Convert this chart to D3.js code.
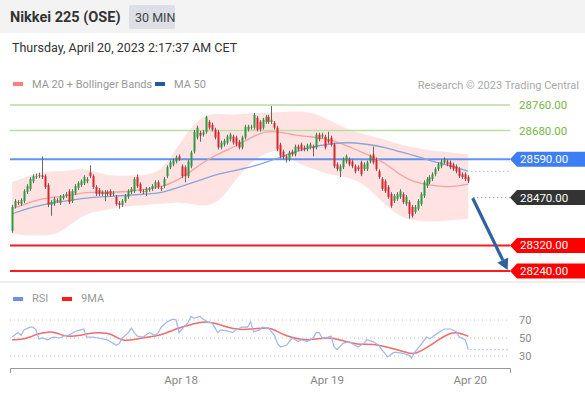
<!DOCTYPE html>
<html><head><meta charset="utf-8">
<script src="https://cdn.jsdelivr.net/npm/d3@7"></script>
<style>body{margin:0;background:#fff}svg{display:block;font-family:Roboto,"Liberation Sans",Arial,sans-serif}</style>
</head><body><svg id="c" width="585" height="395"></svg>
<script>
// ---------- DATA ----------
const open = [28366,28441,28456,28450,28459,28487,28497,28521,28534,28537,28540,28537,28509,28447,28450,28462,28453,28469,28475,28490,
28459,28484,28500,28509,28515,28521,28549,28537,28503,28494,28487,28481,28487,28490,28481,28472,28453,28447,28459,28472,
28487,28490,28534,28512,28490,28487,28494,28497,28503,28518,28500,28506,28537,28565,28574,28583,28599,28568,28565,28537,
28568,28614,28658,28673,28667,28676,28707,28698,28683,28676,28627,28636,28642,28652,28661,28658,28645,28627,28658,28683,
28689,28689,28720,28707,28689,28707,28723,28707,28704,28689,28636,28614,28599,28590,28614,28605,28630,28636,28627,28621,
28627,28630,28627,28667,28661,28661,28652,28658,28636,28574,28552,28565,28583,28590,28583,28568,28565,28580,28559,28559,
28583,28605,28590,28552,28528,28521,28503,28481,28459,28466,28472,28481,28450,28456,28441,28425,28435,28450,28475,28506,
28518,28528,28543,28559,28568,28580,28583,28580,28574,28568,28559,28543,28543,28534];
const high = [28447,28465,28462,28468,28496,28512,28534,28543,28545,28548,28599,28543,28515,28462,28472,28468,28478,28481,28487,28496,
28496,28512,28521,28527,28540,28534,28571,28543,28509,28500,28493,28493,28493,28496,28490,28478,28459,28465,28481,28496,
28503,28534,28543,28518,28496,28503,28503,28512,28524,28524,28506,28534,28571,28586,28592,28602,28605,28574,28571,28589,
28617,28682,28695,28679,28682,28726,28713,28704,28689,28682,28648,28654,28667,28673,28667,28664,28651,28664,28698,28698,
28698,28735,28726,28713,28720,28729,28729,28757,28710,28695,28642,28620,28605,28617,28620,28636,28636,28642,28633,28639,
28642,28636,28673,28673,28673,28667,28676,28664,28642,28580,28574,28596,28605,28596,28589,28574,28571,28586,28580,28586,
28605,28630,28596,28558,28534,28527,28509,28487,28481,28487,28496,28487,28478,28462,28447,28447,28465,28487,28524,28534,
28540,28549,28565,28580,28589,28596,28589,28586,28580,28574,28565,28549,28549,28540];
const low = [28360,28436,28447,28444,28453,28481,28491,28515,28528,28531,28528,28497,28440,28413,28444,28453,28447,28463,28469,28450,
28453,28478,28494,28503,28509,28515,28531,28497,28475,28475,28475,28459,28475,28472,28475,28444,28435,28441,28453,28466,
28481,28484,28500,28484,28481,28475,28488,28491,28497,28497,28491,28500,28531,28559,28568,28577,28584,28531,28518,28531,
28562,28608,28652,28645,28661,28670,28683,28677,28652,28621,28621,28630,28636,28646,28636,28630,28621,28621,28652,28677,
28683,28683,28677,28677,28683,28701,28701,28701,28683,28615,28593,28590,28580,28584,28599,28599,28615,28615,28615,28615,
28621,28599,28621,28646,28655,28621,28639,28630,28562,28553,28534,28559,28577,28568,28562,28546,28553,28537,28553,28553,
28577,28574,28553,28528,28491,28484,28466,28438,28453,28460,28466,28450,28444,28404,28407,28419,28429,28444,28469,28500,
28512,28522,28537,28553,28562,28574,28568,28559,28553,28546,28531,28528,28522,28515];
const close = [28441,28459,28453,28462,28490,28506,28528,28537,28537,28540,28534,28503,28447,28456,28466,28459,28472,28475,28481,28456,
28490,28506,28515,28521,28534,28528,28537,28503,28481,28481,28481,28487,28481,28478,28484,28450,28447,28459,28475,28490,
28497,28528,28506,28490,28487,28497,28497,28506,28518,28503,28497,28528,28565,28580,28586,28596,28590,28537,28537,28583,
28611,28676,28689,28664,28676,28723,28689,28683,28658,28627,28642,28648,28661,28667,28642,28636,28627,28658,28692,28692,
28692,28729,28683,28683,28714,28723,28707,28714,28689,28621,28599,28596,28593,28611,28605,28630,28621,28621,28621,28633,
28636,28624,28667,28652,28667,28627,28645,28636,28568,28559,28568,28590,28599,28574,28568,28552,28559,28543,28574,28580,
28599,28580,28559,28534,28497,28490,28472,28444,28475,28481,28490,28456,28472,28419,28413,28441,28459,28481,28518,28528,
28534,28543,28559,28574,28583,28590,28574,28565,28559,28552,28537,28534,28528,28521];

const indIdx  = [0,5,10,15,20,25,30,35,40,45,50,55,60,65,70,75,80,85,90,95,100,105,110,115,120,125,130,135,140,145,150,153];
const bbUpper = [28518,28537,28552,28552,28555,28562,28543,28537,28540,28540,28552,28621,28692,28732,28732,28729,28735,28735,28738,28741,28738,28720,28695,28676,28664,28652,28636,28627,28617,28614,28608,28605];
const bbLower = [28357,28351,28351,28354,28388,28422,28428,28438,28444,28447,28450,28456,28450,28441,28459,28528,28580,28611,28621,28580,28562,28546,28537,28528,28497,28447,28410,28397,28394,28397,28400,28404];
const ma20    = [28435,28453,28466,28472,28478,28487,28487,28487,28490,28497,28503,28521,28552,28586,28611,28630,28658,28679,28676,28664,28661,28655,28642,28621,28602,28580,28540,28518,28509,28503,28506,28512];
const ma50    = [28419,28435,28447,28456,28462,28469,28472,28475,28478,28481,28484,28500,28515,28531,28546,28555,28565,28580,28596,28614,28627,28636,28642,28642,28636,28627,28614,28602,28586,28574,28562,28552];

const rsiIdx = [0,2,3,4,6,7,8,9,10,12,13,14,16,18,19,21,23,24,25,27,29,32,34,35,36,37,39,40,41,42,44,46,48,49,50,52,54,55,56,57,59,60,61,63,64,66,67,69,70,72,74,75,77,79,80,81,83,84,86,88,89,90,92,94,96,97,99,101,102,103,104,106,107,108,109,111,113,114,116,118,119,121,123,124,126,128,129,131,133,134,135,137,139,140,141,143,145,147,149,150,152,153];
const rsiVal = [51,56,53,59,62,62,59,49,50,48,50,51,50,53,53,57,59,60,51,51,50,48,44,42,44,50,56,61,56,52,51,56,53,56,62,68,71,70,56,60,67,74,72,74,71,67,67,56,59,58,56,59,62,62,68,57,59,62,61,53,44,40,42,50,46,48,46,50,56,56,50,51,52,40,37,44,46,44,40,44,48,46,42,37,29,34,34,33,31,28,34,42,51,49,51,56,60,60,57,51,48,37];
const rsiMaIdx = [0,3,6,9,12,15,18,23,27,32,35,37,41,45,50,54,59,63,67,72,76,81,86,88,92,97,101,106,110,116,121,127,133,135,139,143,147,150,153];
const rsiMaVal = [48,48,51,55,57,56,51,53,56,56,51,47,48,51,53,59,64,68,68,62,59,60,62,59,52,48,48,51,48,42,44,39,33,32,39,48,56,56,52];

const dayIdx = [56.5,105.5,153.5];
const dayLabels = ["Apr 18","Apr 19","Apr 20"];
const levelValues = [28760,28680,28590,28470,28320,28240];
const levelKinds  = ["res","res","last","pivot","sup","sup"];
const rsiTicks = [70,50,30];
const arrowFrom = [154.5,28468];
const arrowTo = [166.2,28243];

// ---------- SETUP ----------
const svg = d3.select("#c");
const x = d3.scaleLinear().domain([-0.7,167]).range([10,510]);
const y = d3.scaleLinear().domain([28240,28760]).range([271,105]);
const yr = d3.scaleLinear().domain([30,70]).range([356,320]);
const n = close.length;

// header
svg.append("rect").attr("x",0).attr("y",0).attr("width",585).attr("height",33).attr("fill","#f3f3f3");
svg.append("text").attr("x",10).attr("y",22).attr("font-size",14.5).attr("font-weight","bold").attr("fill","#333").text("Nikkei 225 (OSE)");
svg.append("rect").attr("x",129).attr("y",5).attr("width",46).attr("height",24).attr("rx",2).attr("fill","#dcdfe5");
svg.append("text").attr("x",135).attr("y",21.5).attr("font-size",12.5).attr("fill","#444").text("30 MIN");
svg.append("text").attr("x",12).attr("y",52).attr("font-size",12.5).attr("fill","#333").text("Thursday, April 20, 2023 2:17:37 AM CET");

// legend
svg.append("rect").attr("x",13).attr("y",82).attr("width",10).attr("height",4).attr("fill","#ff7f7f");
svg.append("text").attr("x",32).attr("y",88).attr("font-size",11).attr("fill","#999").text("MA 20 + Bollinger Bands");
svg.append("rect").attr("x",155).attr("y",82).attr("width",10).attr("height",4).attr("fill","#2b5797");
svg.append("text").attr("x",174).attr("y",88).attr("font-size",11).attr("fill","#999").text("MA 50");
svg.append("text").attr("x",579).attr("y",89).attr("text-anchor","end").attr("font-size",11).attr("fill","#aaa").text("Research \u00A9 2023 Trading Central");

// Bollinger band fill
const bandPts = indIdx.map((d,i)=>({i:d,u:bbUpper[i],l:bbLower[i]}));
svg.append("path").datum(bandPts)
  .attr("d", d3.area().x(d=>x(d.i)).y0(d=>y(d.l)).y1(d=>y(d.u)).curve(d3.curveBasis))
  .attr("fill","#ffe3e3");

// level lines
const lineColor = {res:"#b9dea2", last:"#5f93f2", sup:"#ff1a1a"};
const lineW = {res:1.5, last:2, sup:2};
levelValues.forEach((v,i)=>{
  const k = levelKinds[i];
  if (k==="pivot") return;
  svg.append("line").attr("x1",10).attr("x2",510).attr("y1",y(v)).attr("y2",y(v))
    .attr("stroke",lineColor[k]).attr("stroke-width",lineW[k]);
});

// MA lines
const ma20Pts = indIdx.map((d,i)=>[x(d),y(ma20[i])]);
const ma50Pts = indIdx.map((d,i)=>[x(d),y(ma50[i])]);
svg.append("path").attr("d",d3.line().curve(d3.curveBasis)(ma20Pts)).attr("fill","none").attr("stroke","#f7a0a0").attr("stroke-width",1.3);
svg.append("path").attr("d",d3.line().curve(d3.curveBasis)(ma50Pts)).attr("fill","none").attr("stroke","#8aa4d6").attr("stroke-width",1.3);
// MA50 last value dotted
svg.append("line").attr("x1",x(indIdx[indIdx.length-1])+3).attr("x2",510)
  .attr("y1",y(ma50[ma50.length-1])).attr("y2",y(ma50[ma50.length-1]))
  .attr("stroke","#9fb3dc").attr("stroke-width",1).attr("stroke-dasharray","1,3");

// candles
const g = svg.append("g");
for (let i=0;i<n;i++){
  const cx = Math.round(x(i));
  const up = close[i]>=open[i];
  const col = up ? "#2e9a3e" : "#d8262d";
  g.append("line").attr("x1",cx+0.5).attr("x2",cx+0.5).attr("y1",y(high[i])).attr("y2",y(low[i]))
    .attr("stroke","#666").attr("stroke-width",1);
  const top = y(Math.max(open[i],close[i])), bot = y(Math.min(open[i],close[i]));
  g.append("rect").attr("x",cx-0.5).attr("width",2).attr("y",top).attr("height",Math.max(1,bot-top)).attr("fill",col);
}

// pivot dotted
const piv = levelValues[levelKinds.indexOf("pivot")];
svg.append("line").attr("x1",x(153)+5).attr("x2",510).attr("y1",y(piv)).attr("y2",y(piv))
  .attr("stroke","#888").attr("stroke-width",1).attr("stroke-dasharray","1,3");

// arrow
const ax1=x(arrowFrom[0]), ay1=y(arrowFrom[1]), ax2=x(arrowTo[0]), ay2=y(arrowTo[1]);
const ang = Math.atan2(ay2-ay1, ax2-ax1);
const hl = 11, hw = 6;
const bx = ax2 - hl*Math.cos(ang), by = ay2 - hl*Math.sin(ang);
svg.append("line").attr("x1",ax1).attr("y1",ay1).attr("x2",bx).attr("y2",by)
  .attr("stroke","#2f609f").attr("stroke-width",3.2);
svg.append("path").attr("d",`M${ax2},${ay2}L${bx+hw*Math.sin(ang)},${by-hw*Math.cos(ang)}L${bx-hw*Math.sin(ang)},${by+hw*Math.cos(ang)}Z`)
  .attr("fill","#2f609f");

// level labels
const boxFill = {last:"#3d7ef5", pivot:"#333333", sup:"#ff0000"};
levelValues.forEach((v,i)=>{
  const k = levelKinds[i], yy = y(v);
  if (k==="res"){
    svg.append("text").attr("x",519).attr("y",yy+4).attr("font-size",11.5).attr("fill","#78b648").text(v.toFixed(2));
  } else {
    svg.append("path").attr("d",`M510,${yy}L517,${yy-7.5}L585,${yy-7.5}L585,${yy+7.5}L517,${yy+7.5}Z`).attr("fill",boxFill[k]);
    svg.append("text").attr("x",520).attr("y",yy+4).attr("font-size",11.5).attr("fill","#fff").text(v.toFixed(2));
  }
});

// panel separator
svg.append("rect").attr("x",0).attr("y",281).attr("width",585).attr("height",2).attr("fill","#eeeeee");

// RSI legend
svg.append("rect").attr("x",13).attr("y",297).attr("width",10).attr("height",4).attr("fill","#6e8fe8");
svg.append("text").attr("x",32).attr("y",302).attr("font-size",11).attr("fill","#999").text("RSI");
svg.append("rect").attr("x",62).attr("y",297).attr("width",10).attr("height",4).attr("fill","#ff1a1a");
svg.append("text").attr("x",81).attr("y",302).attr("font-size",11).attr("fill","#999").text("9MA");

// RSI grid and labels
rsiTicks.forEach(t=>{
  svg.append("line").attr("x1",10).attr("x2",510).attr("y1",yr(t)).attr("y2",yr(t))
    .attr("stroke","#c8c8c8").attr("stroke-width",1).attr("stroke-dasharray","1,3");
  svg.append("text").attr("x",519).attr("y",yr(t)+4).attr("font-size",11).attr("fill","#888").text(t);
});

// RSI lines
const rsiPts = rsiIdx.map((d,i)=>[x(d),yr(rsiVal[i])]);
const rsiMaPts = rsiMaIdx.map((d,i)=>[x(d),yr(rsiMaVal[i])]);
svg.append("path").attr("d",d3.line().curve(d3.curveBasis)(rsiMaPts)).attr("fill","none").attr("stroke","#f26a6a").attr("stroke-width",1.5);
svg.append("path").attr("d",d3.line()(rsiPts)).attr("fill","none").attr("stroke","#9fb6f2").attr("stroke-width",1.2);
svg.append("line").attr("x1",x(rsiIdx[rsiIdx.length-1])+2).attr("x2",510)
  .attr("y1",yr(rsiVal[rsiVal.length-1])).attr("y2",yr(rsiVal[rsiVal.length-1]))
  .attr("stroke","#9fb6f2").attr("stroke-width",1).attr("stroke-dasharray","1.5,2.5");

// x axis
const xAxis = d3.axisBottom(x).tickValues(dayIdx).tickFormat((d,i)=>dayLabels[i]).tickSizeInner(0).tickSizeOuter(5).tickPadding(8);
const ga = svg.append("g").attr("transform","translate(0,368)").call(xAxis);
ga.select(".domain").attr("stroke","#999");
ga.selectAll("text").attr("font-size",11.5).attr("fill","#888").attr("font-family","Roboto, Arial, sans-serif");
</script></body></html>
